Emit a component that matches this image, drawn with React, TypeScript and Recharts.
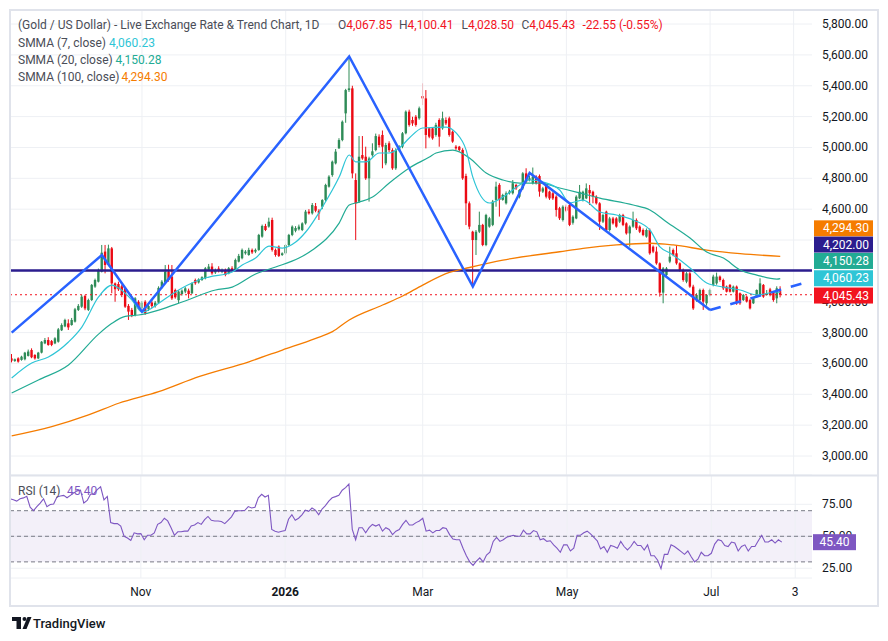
import React from 'react';
import {
  ComposedChart,
  Bar,
  Line,
  XAxis,
  YAxis,
  CartesianGrid,
  ReferenceLine,
  ReferenceArea,
} from 'recharts';

// ---------- DATA ----------
const opens = [
  3633, 3616, 3633, 3623, 3627, 3649, 3687, 3655, 3633, 3670,
  3730, 3752, 3745, 3730, 3741, 3815, 3840, 3860, 3849, 3871,
  3947, 3968, 4037, 3947, 4011, 4098, 4130, 4195, 4325, 4238,
  4346, 4119, 4115, 4100, 4087, 3973, 3947, 3914, 4000, 3958,
  4000, 3951, 3995, 3972, 3994, 4090, 4125, 4195, 4163, 4076,
  4010, 4050, 4066, 4072, 4055, 4141, 4125, 4141, 4152, 4206,
  4228, 4190, 4215, 4195, 4206, 4184, 4217, 4206, 4260, 4282,
  4314, 4303, 4336, 4325, 4336, 4422, 4491, 4487, 4530, 4336,
  4357, 4303, 4314, 4368, 4433, 4460, 4470, 4465, 4508, 4584,
  4573, 4620, 4590, 4616, 4659, 4746, 4821, 4897, 4995, 5048,
  5221, 5372, 5383, 4789, 4649, 4951, 4940, 4800, 4950, 4983,
  5070, 5081, 4897, 5027, 4983, 4865, 4983, 5005, 5092, 5232,
  5178, 5199, 5189, 5333, 5318, 5124, 5124, 5081, 5178, 5124,
  5178, 5189, 5102, 5005, 5005, 4984, 4815, 4638, 4454, 4400,
  4454, 4498, 4368, 4487, 4498, 4660, 4757, 4660, 4638, 4703,
  4703, 4757, 4681, 4735, 4832, 4789, 4768, 4811, 4815, 4714,
  4757, 4714, 4703, 4681, 4606, 4530, 4616, 4627, 4512, 4540,
  4670, 4660, 4670, 4724, 4713, 4681, 4638, 4519, 4584, 4465,
  4540, 4540, 4519, 4562, 4508, 4443, 4487, 4530, 4487, 4465,
  4422, 4465, 4357, 4325, 4249, 4059, 4173, 4260, 4335, 4314,
  4249, 4206, 4130, 4184, 4098, 4011, 4011, 4076, 3990, 4044,
  4109, 4119, 4163, 4141, 4098, 4109, 4065, 4098, 4055, 4011,
  4033, 4011, 3990, 4033, 4044, 4109, 4044, 4080, 4065, 4022,
  4067.85,
];

const highs = [
  3661, 3632, 3640, 3650, 3675, 3690, 3698, 3660, 3675, 3745,
  3765, 3770, 3752, 3770, 3830, 3860, 3890, 3886, 3895, 3960,
  3985, 4045, 4045, 4020, 4115, 4150, 4215, 4368, 4368, 4370,
  4355, 4125, 4130, 4110, 4095, 3985, 3960, 4030, 4010, 4005,
  4010, 3985, 4010, 4005, 4100, 4140, 4238, 4240, 4238, 4085,
  4075, 4080, 4095, 4085, 4125, 4150, 4152, 4165, 4225, 4245,
  4250, 4215, 4230, 4215, 4215, 4225, 4230, 4280, 4310, 4345,
  4335, 4350, 4345, 4345, 4440, 4500, 4505, 4545, 4545, 4345,
  4365, 4320, 4375, 4440, 4495, 4490, 4500, 4515, 4595, 4600,
  4640, 4640, 4600, 4665, 4765, 4820, 4915, 4990, 5060, 5175,
  5380, 5588, 5400, 4832, 5074, 5074, 5005, 4940, 5027, 5090,
  5085, 5110, 5030, 5040, 4995, 4995, 5015, 5100, 5240, 5245,
  5199, 5210, 5265, 5416, 5372, 5130, 5130, 5160, 5189, 5232,
  5195, 5200, 5110, 5015, 5010, 4995, 4830, 4650, 4460, 4465,
  4584, 4505, 4570, 4550, 4660, 4778, 4768, 4700, 4715, 4725,
  4789, 4765, 4730, 4840, 4865, 4815, 4870, 4820, 4825, 4745,
  4765, 4720, 4710, 4690, 4615, 4625, 4630, 4640, 4560, 4690,
  4757, 4720, 4767, 4757, 4720, 4690, 4645, 4570, 4590, 4550,
  4550, 4548, 4570, 4570, 4515, 4495, 4584, 4540, 4495, 4475,
  4475, 4475, 4365, 4357, 4255, 4225, 4225, 4357, 4345, 4368,
  4255, 4215, 4192, 4192, 4110, 4055, 4085, 4085, 4050, 4085,
  4175, 4189, 4170, 4150, 4105, 4115, 4105, 4105, 4060, 4050,
  4040, 4020, 4030, 4080, 4152, 4115, 4076, 4090, 4070, 4100,
  4100.41,
];

const lows = [
  3607, 3610, 3605, 3618, 3620, 3645, 3634, 3625, 3628, 3665,
  3725, 3715, 3712, 3725, 3735, 3810, 3835, 3817, 3845, 3865,
  3940, 3960, 3945, 3940, 4005, 4090, 4125, 4190, 4184, 4230,
  4055, 4000, 4070, 4030, 3960, 3882, 3900, 3905, 3955, 3950,
  3915, 3940, 3960, 3962, 3988, 4085, 4118, 4130, 4012, 4020,
  3990, 4040, 4055, 4022, 4050, 4110, 4118, 4135, 4145, 4200,
  4175, 4180, 4190, 4185, 4165, 4178, 4195, 4200, 4255, 4275,
  4305, 4298, 4310, 4315, 4330, 4415, 4458, 4480, 4325, 4292,
  4290, 4297, 4305, 4360, 4425, 4450, 4462, 4458, 4500, 4565,
  4565, 4580, 4530, 4600, 4650, 4740, 4810, 4890, 4990, 5040,
  5160, 5360, 4800, 4400, 4640, 4920, 4790, 4649, 4940, 4975,
  5000, 4865, 4885, 4970, 4855, 4855, 4975, 4995, 5085, 5135,
  5140, 5135, 5180, 5275, 4994, 5060, 5050, 5070, 5005, 5115,
  5145, 5070, 5030, 4984, 4975, 4790, 4497, 4470, 4098, 4303,
  4445, 4360, 4360, 4480, 4490, 4616, 4552, 4655, 4630, 4695,
  4695, 4725, 4670, 4725, 4770, 4780, 4760, 4760, 4681, 4705,
  4670, 4660, 4660, 4552, 4530, 4520, 4580, 4490, 4500, 4535,
  4665, 4650, 4665, 4627, 4638, 4630, 4465, 4510, 4454, 4455,
  4500, 4480, 4510, 4490, 4435, 4357, 4480, 4465, 4445, 4425,
  4415, 4305, 4315, 4240, 4033, 3990, 4165, 4250, 4295, 4240,
  4195, 4130, 4120, 4090, 3947, 4000, 4000, 3947, 3975, 4035,
  4100, 4110, 4130, 4076, 4060, 4060, 4060, 3980, 3980, 4005,
  3995, 3950, 3985, 4025, 4035, 4025, 4040, 4035, 4000, 3990,
  4028.5,
];

const closes = [
  3618, 3627, 3612, 3644, 3670, 3677, 3640, 3633, 3670, 3741,
  3752, 3720, 3720, 3763, 3821, 3849, 3882, 3834, 3882, 3951,
  3973, 4033, 3957, 4011, 4109, 4141, 4206, 4318, 4238, 4346,
  4119, 4081, 4081, 4044, 3968, 3936, 3914, 4022, 3964, 3994,
  3925, 3973, 3972, 3994, 4090, 4130, 4195, 4141, 4022, 4029,
  4066, 4072, 4087, 4050, 4120, 4120, 4145, 4159, 4217, 4228,
  4184, 4200, 4200, 4206, 4174, 4217, 4200, 4271, 4297, 4336,
  4325, 4336, 4320, 4336, 4433, 4491, 4465, 4519, 4336, 4303,
  4297, 4314, 4368, 4433, 4487, 4478, 4487, 4508, 4584, 4573,
  4627, 4590, 4573, 4659, 4757, 4811, 4908, 4973, 5048, 5167,
  5372, 5383, 4832, 4638, 4940, 4929, 4800, 4929, 4975, 5074,
  5016, 5005, 5016, 4983, 4865, 4983, 5005, 5092, 5232, 5146,
  5156, 5146, 5254, 5318, 5081, 5070, 5059, 5146, 5070, 5189,
  5156, 5081, 5038, 4994, 4984, 4800, 4638, 4487, 4400, 4454,
  4498, 4368, 4562, 4541, 4649, 4746, 4660, 4692, 4703, 4714,
  4768, 4735, 4724, 4832, 4778, 4800, 4811, 4768, 4714, 4735,
  4681, 4670, 4670, 4595, 4541, 4616, 4590, 4498, 4551, 4681,
  4713, 4713, 4735, 4703, 4681, 4638, 4519, 4562, 4465, 4540,
  4508, 4487, 4562, 4498, 4443, 4487, 4530, 4476, 4454, 4433,
  4465, 4314, 4325, 4249, 4059, 4216, 4216, 4292, 4303, 4249,
  4206, 4141, 4184, 4098, 3957, 4044, 4076, 4001, 4044, 4076,
  4163, 4163, 4141, 4087, 4065, 4065, 4098, 3990, 3990, 4044,
  4001, 3957, 4022, 4076, 4119, 4033, 4055, 4044, 4011, 4087,
  4045.43,
];

const rsiValues = [
  79.3, 78.5, 77.5, 79.3, 80, 81.2, 72.7, 70, 73.2, 76,
  79.3, 73.2, 74.8, 75.3, 80.7, 81.5, 82, 80.1, 82, 83.9,
  85.5, 86, 76, 78, 82.8, 83.3, 86.5, 88.7, 78.5, 81.2,
  60.7, 59.9, 59.9, 58, 50, 48.7, 46.8, 52.7, 51.9, 52.1,
  47.3, 50.8, 50.8, 52.7, 59.3, 60.7, 64.1, 62, 56.7, 50.8,
  53.5, 53.5, 54, 54, 58, 58.8, 60.7, 59.3, 63, 65.5,
  62.5, 62, 62, 61.5, 59.9, 62.5, 65.2, 69.5, 70, 70,
  70.3, 73.2, 72.1, 72.7, 80.1, 82.8, 80.7, 82, 55.3, 54,
  53.2, 54, 54.5, 63.3, 66.8, 62.5, 64.1, 66.8, 70.5, 69.5,
  72.1, 70.5, 66.8, 71.3, 74, 77.5, 80.1, 81, 82, 86,
  88, 90.8, 55.3, 47.3, 56.7, 56.7, 52.7, 56.7, 59.3, 58,
  59.3, 54, 56.7, 55.3, 51.3, 54, 55.3, 59.3, 62.5, 58.8,
  58.8, 60.7, 62, 64.1, 54, 54.8, 52.7, 54.5, 54.5, 56.7,
  56.1, 51.3, 47.9, 47.3, 47.3, 40.7, 34.8, 30, 27.3, 30.5,
  33.2, 30, 35.3, 37.5, 46, 49.2, 46, 47.3, 49.2, 50,
  50.8, 50, 50, 54.8, 51.9, 51.9, 54.5, 53.5, 47.3, 48.1,
  46, 46.5, 43.3, 40.7, 37.5, 43.3, 43.3, 38.5, 40.7, 50.8,
  50.8, 52.7, 54, 51.9, 49.2, 46.5, 40.1, 42, 37.5, 42.8,
  42, 40.7, 46, 42, 39.3, 42, 46, 42.8, 42.8, 39.3,
  43.3, 34.8, 34.8, 31.3, 24.7, 35.9, 35.9, 43.3, 42, 40.1,
  38, 35.9, 38.5, 34, 30, 32.1, 37.5, 34.8, 34.8, 36.7,
  43.9, 47.3, 46.5, 42.8, 42, 45.5, 44.7, 38.5, 42, 43.3,
  38.5, 42, 42, 46.5, 50.8, 45.5, 45.5, 47.3, 44.7, 47.3,
  45.4,
];

// SMMA curves, read at sample bars: [bar index, value]
const smma7Pts: [number, number][] = [
  [0, 3506], [6, 3603], [11, 3642], [17, 3739], [21, 3836], [26, 4031], [30, 4108],
  [32, 4089], [36, 4011], [39, 3933], [42, 3959], [44, 3990], [51, 4089], [56, 4141],
  [59, 4160], [66, 4193], [69, 4238], [73, 4283], [77, 4361], [81, 4348], [85, 4387],
  [88, 4452], [93, 4614], [98, 4808], [101, 4951], [103, 4906], [106, 4906], [110, 4964],
  [113, 4964], [116, 4996], [119, 5061], [123, 5126], [130, 5132], [133, 5094],
  [136, 4983], [138, 4808], [143, 4640], [147, 4679], [152, 4757], [155, 4789],
  [159, 4776], [164, 4724], [167, 4640], [171, 4659], [176, 4582], [181, 4562],
  [186, 4530], [191, 4465], [194, 4355], [197, 4316], [203, 4219], [208, 4121],
  [213, 4095], [218, 4076], [223, 4044], [229, 4063], [230, 4060.23],
];

const smma20Pts: [number, number][] = [
  [0, 3408], [8, 3493], [17, 3590], [26, 3790], [30, 3860], [34, 3905], [38, 3914],
  [44, 3946], [51, 3998], [61, 4076], [66, 4095], [73, 4180], [79, 4225], [86, 4283],
  [90, 4335], [98, 4510], [101, 4627], [104, 4646], [108, 4679], [113, 4770],
  [119, 4867], [125, 4938], [127, 4964], [132, 4983], [137, 4932], [142, 4834],
  [147, 4789], [152, 4769], [158, 4769], [164, 4737], [169, 4711], [176, 4672],
  [186, 4627], [191, 4595], [196, 4517], [203, 4413], [208, 4322], [213, 4283],
  [218, 4206], [223, 4173], [229, 4147], [230, 4150.28],
];

const smma100Pts: [number, number][] = [
  [0, 3130], [12, 3190], [23, 3266], [32, 3342], [44, 3417], [56, 3514], [71, 3611],
  [81, 3687], [91, 3763], [96, 3806], [101, 3882], [111, 3979], [117, 4037],
  [123, 4108], [131, 4190], [137, 4222], [147, 4270], [164, 4324], [171, 4346],
  [181, 4368], [191, 4379], [198, 4368], [208, 4335], [218, 4312], [230, 4294.3],
];

// Trend drawing (zig-zag) and its dashed extension: [bar index, price]
const zigPts: [number, number][] = [
  [0, 3800], [27, 4303], [39, 3935], [101, 5590], [138, 4098], [155, 4835], [209, 3946],
];
const zigDashPts: [number, number][] = [[209, 3946], [237, 4121]];

const HORIZONTAL_LEVEL = 4202;
const LAST_CLOSE = 4045.43;
const LAST_RSI = 45.4;
const SMMA7_LAST = 4060.23;
const SMMA20_LAST = 4150.28;
const SMMA100_LAST = 4294.3;

const priceTicks = [3000, 3200, 3400, 3600, 3800, 4000, 4200, 4400, 4600, 4800, 5000, 5200, 5400, 5600, 5800];
// scale labels fully covered by the value tags in the reference (grid lines stay)
const coveredPriceTicks = [4200, 4400];
const rsiTicks = [25, 50, 75];
const xTickIdx = [39, 82, 123, 166, 209, 234];
const xTickLabels = ['Nov', '2026', 'Mar', 'May', 'Jul', '3'];

const SLOTS = 240;
const PRICE_DOMAIN: [number, number] = [2877, 5891];
const RSI_DOMAIN: [number, number] = [17.4, 97.9];

// ---------- build chart table ----------
const rows: any[] = Array.from({ length: SLOTS }, (_, i) => {
  const r: any = { i };
  if (i < closes.length) {
    r.o = opens[i];
    r.h = highs[i];
    r.l = lows[i];
    r.c = closes[i];
    r.range = [lows[i], highs[i]];
    r.rsi = rsiValues[i];
  }
  return r;
});
smma7Pts.forEach(([i, v]) => (rows[i].s7 = v));
smma20Pts.forEach(([i, v]) => (rows[i].s20 = v));
smma100Pts.forEach(([i, v]) => (rows[i].s100 = v));
zigPts.forEach(([i, v]) => (rows[i].zig = v));
zigDashPts.forEach(([i, v]) => (rows[i].zigDash = v));

// ---------- styles / layout ----------
const FONT = 'Roboto, "Liberation Sans", Arial, sans-serif';
const GRID = '#eef0f4';
const GREEN = '#2e8b57';
const RED = '#eb0a14';
const TAG_RED = '#f2131f';
const NAVY = '#2b1d8e';
const CYAN = '#2ec5d6';
const TEAL = '#22ab94';
const ORANGE = '#f57c00';
const BLUE = '#2962ff';
const PURPLE = '#7e57c2';
const TEXT = '#131722';
const LEG = '#4a4d57';

// plot geometry (matches chart margins below) used only to place the axis value tags
const PRICE_TOP = 10;
const PRICE_H = 465;
const RSI_TOP = 475;
const RSI_H = 103;
const PLOT_RIGHT = 812;
const priceY = (v: number) =>
  PRICE_TOP + ((PRICE_DOMAIN[1] - v) / (PRICE_DOMAIN[1] - PRICE_DOMAIN[0])) * PRICE_H;
const rsiY = (v: number) =>
  RSI_TOP + ((RSI_DOMAIN[1] - v) / (RSI_DOMAIN[1] - RSI_DOMAIN[0])) * RSI_H;

const fmt2 = (v: number) =>
  v.toLocaleString('en-US', { minimumFractionDigits: 2, maximumFractionDigits: 2 });

const Candle = (props: any) => {
  const { x, width, payload } = props;
  let { y, height } = props;
  if (!payload || payload.o == null || y == null) return null;
  if (height < 0) {
    y = y + height;
    height = -height;
  }
  const { o, h, l, c } = payload;
  const up = c >= o;
  const color = up ? GREEN : RED;
  const span = h - l || 1;
  const ratio = height / span;
  const cx = x + width / 2;
  const yO = y + (h - o) * ratio;
  const yC = y + (h - c) * ratio;
  const top = Math.min(yO, yC);
  const bh = Math.max(1, Math.abs(yO - yC));
  const bw = 2.4;
  return (
    <g>
      <line x1={cx} x2={cx} y1={y} y2={y + height} stroke={color} strokeWidth={1} />
      <rect x={cx - bw / 2} y={top} width={bw} height={bh} fill={color} />
    </g>
  );
};

const PriceTick = (props: any) => {
  const { y, payload } = props;
  if (coveredPriceTicks.includes(payload.value)) return <g />;
  return (
    <text x={822} y={y + 4} fontSize={12} fill={TEXT} fontFamily={FONT}>
      {fmt2(payload.value)}
    </text>
  );
};

const RsiTick = (props: any) => {
  const { y, payload } = props;
  return (
    <text x={822} y={y + 4} fontSize={12} fill={TEXT} fontFamily={FONT}>
      {fmt2(payload.value)}
    </text>
  );
};

const XTick = (props: any) => {
  const { x, payload } = props;
  const k = xTickIdx.indexOf(payload.value);
  const label = k >= 0 ? xTickLabels[k] : '';
  return (
    <text
      x={x}
      y={121}
      textAnchor="middle"
      fontSize={12}
      fill={TEXT}
      fontFamily={FONT}
      fontWeight={label === '2026' ? 700 : 400}
    >
      {label}
    </text>
  );
};

const Tag = ({ cy, bg, text, w = 59, x0 = PLOT_RIGHT + 2, center = false }: any) => (
  <g>
    <rect x={x0} y={cy - 8} width={w} height={16} fill={bg} />
    <text
      x={center ? x0 + w / 2 : x0 + w - 4}
      y={cy + 4}
      textAnchor={center ? 'middle' : 'end'}
      fontSize={12}
      fill="#ffffff"
    >
      {text}
    </text>
  </g>
);

export default function App() {
  return (
    <div
      style={{
        position: 'absolute',
        left: 0,
        top: 0,
        width: 888,
        height: 641,
        background: '#ffffff',
        overflow: 'hidden',
        fontFamily: FONT,
      }}
    >
      {/* price panel */}
      <div style={{ position: 'absolute', left: 0, top: 0 }}>
        <ComposedChart
          width={888}
          height={475}
          data={rows}
          margin={{ top: 10, right: 0, bottom: 0, left: 10 }}
          barCategoryGap={0}
        >
          <CartesianGrid vertical={false} stroke={GRID} />
          <XAxis dataKey="i" type="category" hide />
          <YAxis
            type="number"
            orientation="right"
            width={76}
            domain={PRICE_DOMAIN}
            ticks={priceTicks}
            interval={0}
            allowDataOverflow
            axisLine={false}
            tickLine={false}
            tick={<PriceTick />}
          />
          {xTickIdx.map((i) => (
            <ReferenceLine key={'vg' + i} x={i} stroke={GRID} />
          ))}
          <ReferenceLine y={HORIZONTAL_LEVEL} stroke={NAVY} strokeWidth={2.5} />
          <ReferenceLine y={LAST_CLOSE} stroke={TAG_RED} strokeDasharray="2 3" />
          <Line type="monotone" dataKey="s100" stroke={ORANGE} strokeWidth={1.3} dot={false} connectNulls isAnimationActive={false} />
          <Line type="monotone" dataKey="s20" stroke={TEAL} strokeWidth={1.2} dot={false} connectNulls isAnimationActive={false} />
          <Line type="monotone" dataKey="s7" stroke={CYAN} strokeWidth={1.2} dot={false} connectNulls isAnimationActive={false} />
          <Bar dataKey="range" shape={(p: any) => <Candle {...p} />} isAnimationActive={false} />
          <Line type="linear" dataKey="zig" stroke={BLUE} strokeWidth={2.5} dot={false} connectNulls isAnimationActive={false} />
          <Line type="linear" dataKey="zigDash" stroke={BLUE} strokeWidth={2.5} strokeDasharray="11 10" dot={false} connectNulls isAnimationActive={false} />
        </ComposedChart>
      </div>

      {/* RSI panel */}
      <div style={{ position: 'absolute', left: 0, top: 475 }}>
        <ComposedChart
          width={888}
          height={131}
          data={rows}
          margin={{ top: 0, right: 0, bottom: 0, left: 10 }}
        >
          <CartesianGrid vertical={false} stroke={GRID} />
          <XAxis
            dataKey="i"
            type="category"
            ticks={xTickIdx}
            interval={0}
            axisLine={false}
            tickLine={false}
            height={28}
            tick={<XTick />}
          />
          <YAxis
            type="number"
            orientation="right"
            width={76}
            domain={RSI_DOMAIN}
            ticks={rsiTicks}
            interval={0}
            allowDataOverflow
            axisLine={false}
            tickLine={false}
            tick={<RsiTick />}
          />
          {xTickIdx.map((i) => (
            <ReferenceLine key={'rvg' + i} x={i} stroke={GRID} />
          ))}
          <ReferenceArea y1={30} y2={70} fill={PURPLE} fillOpacity={0.09} stroke="none" />
          <ReferenceLine y={70} stroke="#787b86" strokeDasharray="4 3" />
          <ReferenceLine y={50} stroke="#787b86" strokeDasharray="4 3" />
          <ReferenceLine y={30} stroke="#787b86" strokeDasharray="4 3" />
          <Line type="linear" dataKey="rsi" stroke={PURPLE} strokeWidth={1.1} dot={false} isAnimationActive={false} />
        </ComposedChart>
      </div>

      {/* frame, value tags, legends and footer */}
      <svg
        width={888}
        height={641}
        style={{ position: 'absolute', left: 0, top: 0, pointerEvents: 'none' }}
        fontFamily={FONT}
      >
        <rect x={10} y={10} width={868} height={596} fill="none" stroke="#e0e3eb" strokeWidth={2} />
        <line x1={10} x2={878} y1={475.5} y2={475.5} stroke="#e0e3eb" strokeWidth={2} />

        {/* right-scale value tags (stacked like the reference to avoid overlap) */}
        <Tag cy={priceY(SMMA100_LAST) - 28} bg={ORANGE} text={fmt2(SMMA100_LAST)} />
        <Tag cy={priceY(HORIZONTAL_LEVEL) - 26} bg={NAVY} text={fmt2(HORIZONTAL_LEVEL)} />
        <Tag cy={priceY(SMMA20_LAST) - 17.6} bg={TEAL} text={fmt2(SMMA20_LAST)} />
        <Tag cy={priceY(SMMA7_LAST) - 14.2} bg={CYAN} text={fmt2(SMMA7_LAST)} />
        <Tag cy={priceY(LAST_CLOSE) + 0.8} bg={TAG_RED} text={fmt2(LAST_CLOSE)} />
        <Tag cy={rsiY(LAST_RSI)} bg={PURPLE} text={LAST_RSI.toFixed(2)} w={43} x0={PLOT_RIGHT + 1} center />

        <text y={29} fontSize={12} fill={LEG}>
          <tspan x={18}>(Gold / US Dollar) - Live Exchange Rate &amp; Trend Chart, 1D</tspan>
          <tspan x={338}>O</tspan>
          <tspan fill={TAG_RED}>4,067.85</tspan>
          <tspan x={399}>H</tspan>
          <tspan fill={TAG_RED}>4,100.41</tspan>
          <tspan x={461.5}>L</tspan>
          <tspan fill={TAG_RED}>4,028.50</tspan>
          <tspan x={521.5}>C</tspan>
          <tspan fill={TAG_RED}>4,045.43</tspan>
          <tspan x={582.5} fill={TAG_RED}>-22.55 (-0.55%)</tspan>
        </text>
        <text y={46.5} fontSize={12} fill={LEG}>
          <tspan x={18}>SMMA (7, close)</tspan>
          <tspan x={109} fill={CYAN}>{fmt2(SMMA7_LAST)}</tspan>
        </text>
        <text y={63.5} fontSize={12} fill={LEG}>
          <tspan x={18}>SMMA (20, close)</tspan>
          <tspan x={115.5} fill={TEAL}>{fmt2(SMMA20_LAST)}</tspan>
        </text>
        <text y={80.5} fontSize={12} fill={LEG}>
          <tspan x={18}>SMMA (100, close)</tspan>
          <tspan x={121.5} fill={ORANGE}>{fmt2(SMMA100_LAST)}</tspan>
        </text>
        <text y={495} fontSize={12} fill={LEG}>
          <tspan x={18}>RSI (14)</tspan>
          <tspan x={67} fill={PURPLE}>{LAST_RSI.toFixed(2)}</tspan>
        </text>

        {/* TradingView footer */}
        <g fill={TEXT}>
          <rect x={12} y={617} width={9} height={4} />
          <rect x={16.5} y={617} width={4.5} height={12} />
          <circle cx={24.5} cy={619} r={2} />
          <polygon points="22.5,629 27.5,617 31.5,617 26.5,629" />
        </g>
        <text x={33} y={628} fontSize={13} fill={TEXT} fontWeight={500}>
          TradingView
        </text>
      </svg>
    </div>
  );
}
